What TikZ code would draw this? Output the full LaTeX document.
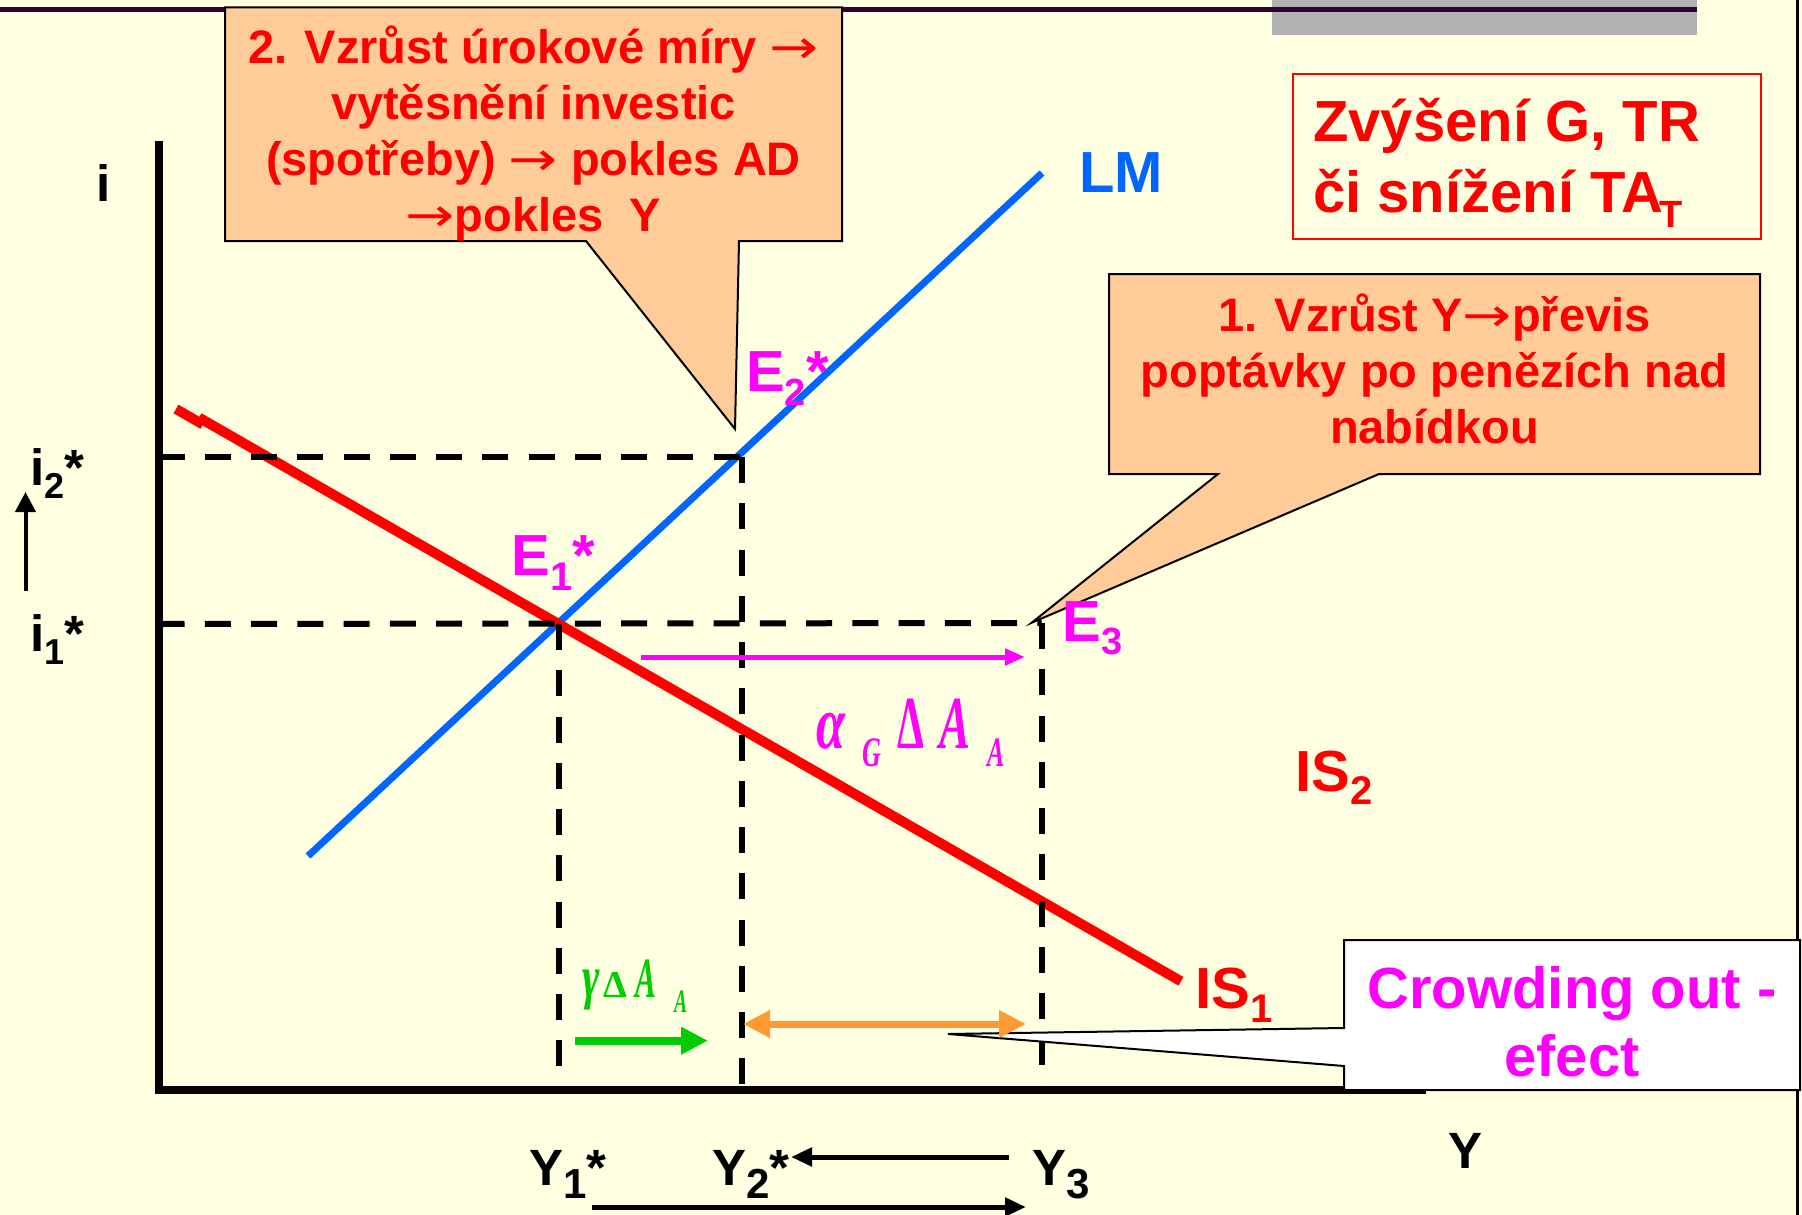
\documentclass[tikz,border=0pt]{standalone}
\usepackage{fontspec}
\usepackage{graphicx}
\setmainfont{Liberation Sans}
\newfontfamily\tms{Liberation Serif}
\newfontfamily\dvs{DejaVu Sans}
\usetikzlibrary{arrows.meta}
\definecolor{bgyel}{RGB}{255,255,225}
\definecolor{topln}{RGB}{51,0,51}
\definecolor{grayb}{RGB}{178,178,178}
\definecolor{peach}{RGB}{255,204,153}
\definecolor{lmblue}{RGB}{0,102,255}
\definecolor{mag}{RGB}{255,0,255}
\definecolor{grn}{RGB}{0,204,0}
\definecolor{orng}{RGB}{255,153,51}
\newcommand\fs[1]{\fontsize{#1}{#1}\selectfont}
\newcommand\lowsub[3]{\raisebox{-#2pt}{\fs{#1}#3}}
\newcommand\rar{\scalebox{1.25}[1]{\dvs\mdseries →}}
\newcommand\gl[3]{\makebox[0pt][l]{\raisebox{#2pt}{\scalebox{#3}[1]{#1}}}}
\tikzset{
  lbl/.style={anchor=base west, inner sep=0pt, font=\bfseries\fs{58}},
  axlbl/.style={anchor=base west, inner sep=0pt, font=\bfseries\fs{51}},
  dashline/.style={line width=6pt, dash pattern=on 26pt off 20.25pt},
  callout/.style={fill=peach, draw=black, line width=2pt, line join=miter},
  ctext/.style={inner sep=0pt, anchor=north, align=center, text=red,
    font=\bfseries\fontsize{47}{56}\selectfont},
  blackarrow/.style={line width=5pt, -{Triangle[length=21pt,width=18pt]}},
}
\begin{document}
\begin{tikzpicture}[x=1pt,y=-1pt]
\useasboundingbox (0,0) rectangle (1802,1215);
\fill[bgyel] (0,0) rectangle (1802,1215);
% header decoration
\fill[grayb] (1272,0) rectangle (1697,35);
\draw[topln, line width=5pt] (0,9.7) -- (1697,9.7);
\draw[black, line width=2.5pt] (1797.5,0) -- (1797.5,1215);

% key points
\coordinate (O) at (158.5,1090);
\coordinate (ytop) at (158.5,141);
\coordinate (xend) at (1426,1090);
\coordinate (E1) at (558.5,624);
\coordinate (E2) at (741.5,457);
\coordinate (E3) at (1041.5,623);

% axes
\draw[line width=8pt, line join=miter] (ytop) -- (O) -- (xend);

% LM and IS1
\draw[lmblue, line width=7pt] (308,856) -- (1042,173);
\draw[red, line width=10pt] (176,409) -- (203,424.5);
\draw[red, line width=10pt] (199,417.6) -- (1181,981.3);

% dashed guide lines
\draw[dashline] (O |- E2) -- (E2);
\draw[dashline] (E2) -- (E2 |- O);
\draw[dashline] (O |- E1) -- (E3);
\draw[dashline] (E1) -- (E1 |- O);
\draw[dashline] (E3) -- (E3 |- O);

% callout 2
\draw[callout] (225,7.5) -- (842,7.5) -- (842,241) -- (739,241) -- (735,429) -- (586,241) -- (225,241) -- cycle;
\node[ctext] (c2) at (533.5,24.1) {\strut 2. Vzrůst úrokové míry \rar\\ vytěsnění investic\\ (spotřeby) \rar{} pokles AD\\ \rar pokles~~Y};

% callout 1
\draw[callout] (1109,274) -- (1760,274) -- (1760,474) -- (1379,474) -- (1031.7,622.7) -- (1218,474) -- (1109,474) -- cycle;
\node[ctext] (c1) at (1434.5,291.8) {\strut 1. Vzrůst Y\rar převis\\ poptávky po penězích nad\\ nabídkou};

% red box
\draw[red, line width=2pt] (1292.5,74) rectangle (1760.5,239);
\node[anchor=north west, inner sep=0pt, align=left, text=red,
  font=\bfseries\fontsize{58}{70.3}\selectfont] (g) at (1313,92.5)
  {\strut Zvýšení G, TR\\ či snížení TA\kern-4pt\lowsub{38}{15}{T}};

% crowding out callout
\draw[fill=white, draw=black, line width=2pt, line join=miter] (1344,940) -- (1800,940) -- (1800,1090) -- (1344,1090) -- (1344,1066) -- (948,1034) -- (1344,1028) -- cycle;
\node[anchor=north, inner sep=0pt, align=center, text=mag,
  font=\bfseries\fontsize{58}{68.7}\selectfont] (co) at (1572,959.9)
  {\strut Crowding out -\\ efect};

% curve and point labels
\node[lbl, text=mag] (e1) at (511.6,575) {E\lowsub{40}{15}{1}*};
\node[lbl, text=mag] (e2) at (746,391.7) {E\lowsub{38}{14}{2}*};
\node[lbl, text=mag] (e3) at (1062.7,641.7) {E\lowsub{38}{13}{3}};
\node[lbl, text=lmblue] (lm) at (1079,192) {LM};
\node[lbl, text=red] (is2) at (1295,791.7) {IS\lowsub{40}{13}{2}};
\node[lbl, text=red] (is1) at (1195,1008) {IS\lowsub{40}{14}{1}};

% axis labels
\node[axlbl] (ilab) at (96,201) {i};
\node[axlbl] (i2) at (30,485) {i\lowsub{36}{13}{2}*};
\node[axlbl] (i1) at (30,651.7) {i\lowsub{36}{13}{1}*};
\node[axlbl] (ylab) at (1448,1168) {Y};
\node[axlbl] (y1) at (529,1185) {Y\lowsub{42}{13}{1}*};
\node[axlbl] (y2) at (712,1185) {Y\lowsub{42}{13}{2}*};
\node[axlbl] (y3) at (1032.5,1185) {Y\lowsub{42}{13}{3}};

% multiplier labels
\node[anchor=base west, inner sep=0pt, text=mag, font=\tms\bfseries\itshape\fs{75}] (ag) at (816,748)
  {\gl{α}{0}{0.7}\hspace{46pt}\gl{\fs{42}G}{-18}{0.62}\hspace{35.5pt}\gl{\upshape Δ}{0}{0.57}\hspace{41.5pt}\gl{A}{0}{0.62}\hspace{48pt}\gl{\fs{42}A}{-18}{0.62}\hspace{18pt}};
\node[anchor=base west, inner sep=0pt, text=grn, font=\tms\bfseries\itshape\fs{57}] (gd) at (582,997)
  {\gl{\fs{60}γ}{0}{0.7}\hspace{21pt}\gl{\upshape\fs{38}Δ}{0}{1}\hspace{32.7pt}\gl{A}{0}{0.55}\hspace{38.3pt}\gl{\fs{33}A}{-15}{0.6}\hspace{14pt}};

% arrows
\coordinate (ma1) at (641,657);
\coordinate (ma2) at (1025,657);
\draw[mag, line width=5pt, -{Triangle[length=20pt,width=16pt]}] (ma1) -- (ma2);
\coordinate (ga1) at (575,1040.7);
\coordinate (ga2) at (708,1040.7);
\draw[grn, line width=8pt, -{Triangle[length=27pt,width=26pt]}] (ga1) -- (ga2);
\coordinate (oa1) at (743,1024);
\coordinate (oa2) at (1026,1024);
\draw[orng, line width=7pt, {Triangle[length=27pt,width=26pt]}-{Triangle[length=27pt,width=26pt]}] (oa1) -- (oa2);
\coordinate (ya1) at (1009,1157);
\coordinate (ya2) at (791,1157);
\draw[blackarrow] (ya1) -- (ya2);
\coordinate (yb1) at (592,1207);
\coordinate (yb2) at (1026,1207);
\draw[blackarrow] (yb1) -- (yb2);
\coordinate (ua1) at (25.5,591);
\coordinate (ua2) at (25.5,492);
\draw[line width=4pt, -{Triangle[length=20pt,width=20pt]}] (ua1) -- (ua2);
\end{tikzpicture}
\end{document}
